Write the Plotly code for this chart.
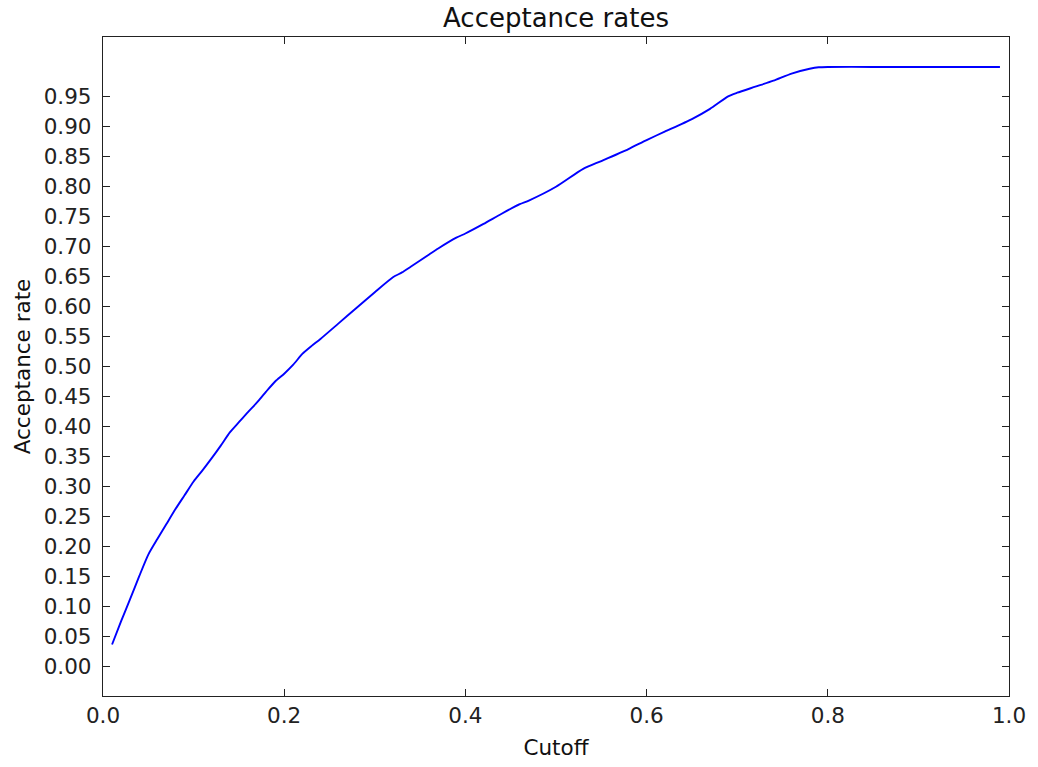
import plotly.graph_objects as go

cutoff = [0.01, 0.02, 0.03, 0.04, 0.05, 0.06, 0.07, 0.08, 0.09, 0.10, 0.11, 0.12,
          0.13, 0.14, 0.15, 0.16, 0.17, 0.18, 0.19, 0.20, 0.21, 0.22, 0.23, 0.24,
          0.26, 0.28, 0.30, 0.32, 0.33, 0.34, 0.36, 0.37, 0.39, 0.40, 0.42, 0.44,
          0.46, 0.47, 0.50, 0.53, 0.55, 0.58, 0.60, 0.62, 0.65, 0.67, 0.69, 0.70,
          0.72, 0.74, 0.76, 0.78, 0.79, 0.80, 0.85, 0.90, 0.95, 0.99]
acceptance = [0.036, 0.075, 0.112, 0.150, 0.186, 0.212, 0.237, 0.262, 0.285, 0.308,
              0.327, 0.347, 0.368, 0.390, 0.407, 0.424, 0.440, 0.458, 0.475, 0.488,
              0.503, 0.521, 0.534, 0.546, 0.572, 0.598, 0.624, 0.649, 0.657, 0.667,
              0.687, 0.697, 0.715, 0.722, 0.738, 0.755, 0.771, 0.777, 0.800, 0.830,
              0.843, 0.863, 0.878, 0.892, 0.913, 0.930, 0.951, 0.957, 0.967, 0.977,
              0.989, 0.997, 0.9995, 1.000, 1.000, 1.000, 1.000, 1.000]

y_ticks = [round(i * 0.05, 2) for i in range(20)]
y_labels = [f"{v:.2f}" for v in y_ticks]
x_ticks = [0.0, 0.2, 0.4, 0.6, 0.8, 1.0]
x_labels = [f"{v:.1f}" for v in x_ticks]

FONT = "DejaVu Sans"

fig = go.Figure()
fig.add_trace(go.Scatter(x=cutoff, y=acceptance, mode="lines", line_shape="spline",
                         line=dict(color="#0000ff", width=1.9, smoothing=0.6),
                         showlegend=False))

axis_common = dict(
    showgrid=False, zeroline=False, showline=True, linecolor="#222222", linewidth=1.3,
    mirror="ticks", ticks="inside", ticklen=7, tickwidth=1.2, tickcolor="#222222",
    tickfont=dict(family=FONT, size=21.5, color="#222222"),
)

W, H = 1038, 767
fig.update_layout(
    width=W, height=H,
    margin=dict(l=103, r=20, t=37, b=67),
    paper_bgcolor="white", plot_bgcolor="white",
    title=dict(text="Acceptance rates", x=0.5, xanchor="center", xref="paper",
               yref="container", y=1 - 18 / H, yanchor="middle",
               font=dict(family=FONT, size=26, color="#111111")),
    xaxis=dict(range=[0, 1.0], tickvals=x_ticks, ticktext=x_labels,
               title=dict(text="Cutoff", font=dict(family=FONT, size=21.5, color="#111111"), standoff=12),
               **axis_common),
    yaxis=dict(range=[-0.05, 1.05], tickvals=y_ticks, ticktext=y_labels,
               ticklabelstandoff=6,
               title=dict(text="Acceptance rate", font=dict(family=FONT, size=21.5, color="#111111"), standoff=7),
               **axis_common),
)

post = ("document.body.style.margin='0';"
        "document.body.style.overflow='hidden';"
        "document.documentElement.style.overflow='hidden';")
fig.write_html("out.html", config={"displayModeBar": False}, post_script=post)
